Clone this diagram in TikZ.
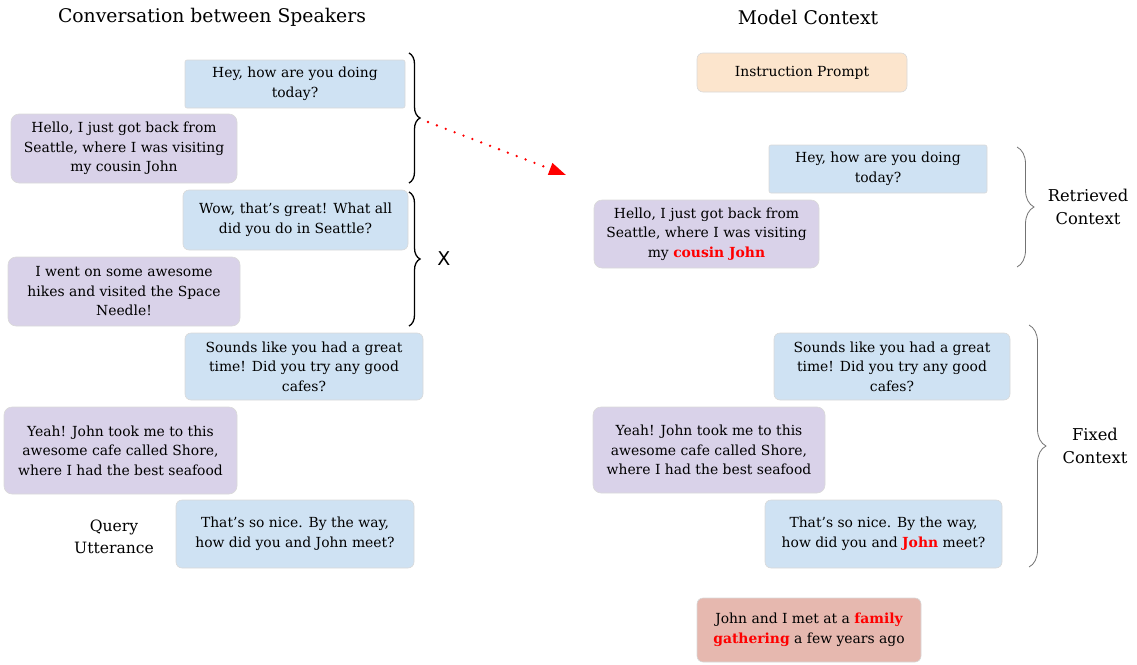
\documentclass[tikz,border=0pt]{standalone}
\usepackage{fontspec}
\setmainfont{DejaVu Serif}
\newfontfamily\xfont{DejaVu Sans}
\usetikzlibrary{decorations.pathreplacing,arrows.meta}
\definecolor{bblue}{HTML}{CFE2F3}
\definecolor{bpurple}{HTML}{D9D2E9}
\definecolor{borange}{HTML}{FCE5CD}
\definecolor{bpink}{HTML}{E6B8AF}
\newcommand{\redb}[1]{\textcolor{red}{\bfseries #1}}
\begin{document}
\begin{tikzpicture}[x=1pt,y=-1pt,
  bub/.style={draw=black!15, line width=0.6pt, align=center, inner sep=0pt,
    font=\fontsize{13.9}{19.5}\selectfont},
  qb/.style={bub, fill=bblue, rounded corners=6pt},
  ab/.style={bub, fill=bpurple, rounded corners=8pt},
  title/.style={font=\fontsize{18.8}{22}\selectfont},
  lab/.style={align=center, font=\fontsize{16.3}{22.5}\selectfont},
  lbrace/.style={decorate, decoration={brace, amplitude=11pt}, line width=1.3pt},
  rbrace/.style={decorate, decoration={brace, amplitude=17pt}, line width=0.8pt, draw=black!55}]
\useasboundingbox (0,0) rectangle (1137,664);

% titles
\node[title] (t1) at (212,17) {Conversation between Speakers};
\node[title] (t2) at (808,17) {Model Context};

% left conversation
\node[qb, rounded corners=2pt, minimum width=220pt, minimum height=48pt] (l1) at (295,84) {Hey, how are you doing\\today?};
\node[ab, minimum width=226pt, minimum height=69pt] (l2) at (124,148.5) {Hello, I just got back from\\Seattle, where I was visiting\\my cousin John};
\node[qb, minimum width=225pt, minimum height=60pt] (l3) at (295.5,220) {Wow, that’s great! What all\\did you do in Seattle?};
\node[ab, minimum width=232pt, minimum height=69pt] (l4) at (124,291.5) {I went on some awesome\\hikes and visited the Space\\Needle!};
\node[qb, minimum width=238pt, minimum height=67pt] (l5) at (304,366.5) {Sounds like you had a great\\time! Did you try any good\\cafes?};
\node[ab, minimum width=233pt, minimum height=87pt] (l6) at (120.5,450.5) {Yeah! John took me to this\\awesome cafe called Shore,\\where I had the best seafood};
\node[qb, minimum width=238pt, minimum height=68pt] (l7) at (295,534) {That’s so nice. By the way,\\how did you and John meet?};
\node[lab, font=\fontsize{15.6}{22.5}\selectfont] (qu) at (114,537) {Query\\Utterance};

% left braces
\coordinate (b1t) at (409,53);
\coordinate (b1b) at (409,183);
\coordinate (b2t) at (409,192);
\coordinate (b2b) at (409,326);
\draw[lbrace] (b1t) -- (b1b);
\draw[lbrace] (b2t) -- (b2b);
\node[font=\xfont\fontsize{19}{20}\selectfont] (xl) at (444,259) {X};

% dotted arrow
\coordinate (as) at (428,122);
\coordinate (ae) at (566,175);
\draw[red, line width=2.6pt, line cap=round, dash pattern=on 0pt off 9.5pt,
  -{Triangle[length=17pt,width=12pt]}] (as) -- (ae);

% right model context
\node[bub, fill=borange, rounded corners=6pt, minimum width=210pt, minimum height=39pt] (ip) at (802,72.5) {Instruction Prompt};
\node[qb, rounded corners=2pt, minimum width=218pt, minimum height=48pt] (r1) at (878,169) {Hey, how are you doing\\today?};
\node[ab, minimum width=225pt, minimum height=68pt] (r2) at (706.5,234) {Hello, I just got back from\\Seattle, where I was visiting\\my \redb{cousin John}};
\node[qb, minimum width=236pt, minimum height=67pt] (r3) at (892,366.5) {Sounds like you had a great\\time! Did you try any good\\cafes?};
\node[ab, minimum width=232pt, minimum height=86pt] (r4) at (709,450) {Yeah! John took me to this\\awesome cafe called Shore,\\where I had the best seafood};
\node[qb, minimum width=237pt, minimum height=68pt] (r5) at (883.5,534) {That’s so nice. By the way,\\how did you and \redb{John} meet?};
\node[bub, fill=bpink, rounded corners=6pt, minimum width=224pt, minimum height=64pt] (ans) at (809,630) {John and I met at a \redb{family}\\\redb{gathering} a few years ago};

% right braces
\coordinate (rct) at (1017,147);
\coordinate (rcb) at (1017,267);
\coordinate (fct) at (1029,325);
\coordinate (fcb) at (1029,567);
\draw[rbrace] (rct) -- (rcb);
\draw[rbrace] (fct) -- (fcb);
\node[lab] (rcl) at (1088,207) {Retrieved\\Context};
\node[lab] (fcl) at (1095,446) {Fixed\\Context};
\end{tikzpicture}
\end{document}
